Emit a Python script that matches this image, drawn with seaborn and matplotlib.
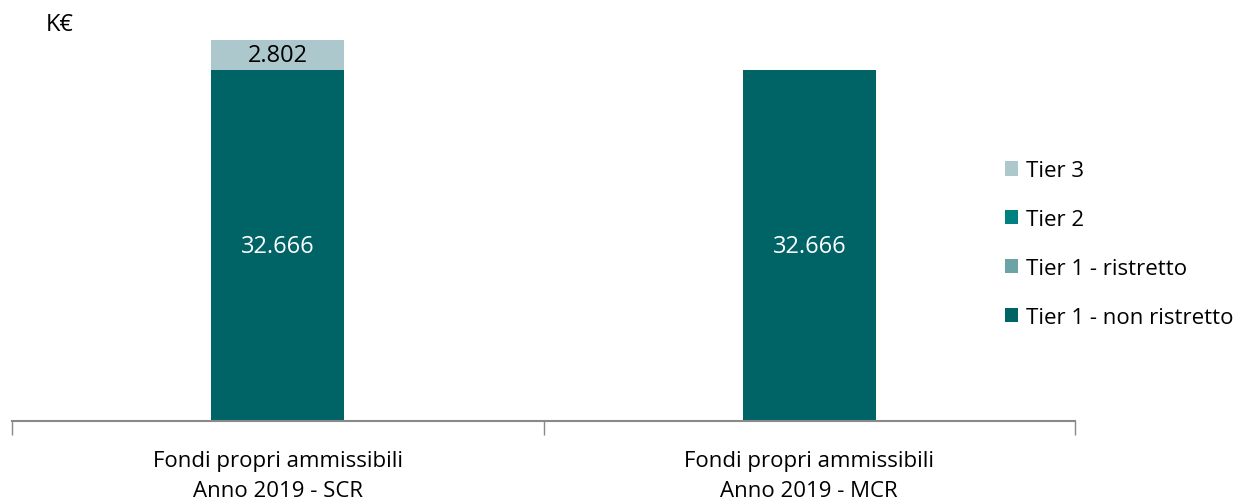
import matplotlib.pyplot as plt
import numpy as np
import seaborn as sns
import pandas as pd

# data
categories = ['Fondi propri ammissibili\nAnno 2019 - SCR', 'Fondi propri ammissibili\nAnno 2019 - MCR']
tiers = ['Tier 1 - non ristretto', 'Tier 1 - ristretto', 'Tier 2', 'Tier 3']
tier1_non_ristretto = [32666, 32666]
tier1_ristretto = [0, 0]
tier2 = [0, 0]
tier3 = [2802, 0]

colors = ['#006366', '#6BA3A6', '#008080', '#ADC8CC']
label_colors = ['white', 'white', 'white', 'black']

sns.set_theme(style='white')
plt.rcParams['font.family'] = ['Open Sans', 'DejaVu Sans']
plt.rcParams['text.color'] = 'black'
plt.rcParams['xtick.color'] = 'black'

fig = plt.figure(figsize=(12.56, 5.02), dpi=100)
ax = fig.add_axes([12 / 1256, 80 / 502, (1075 - 12) / 1256, 412 / 502])

series = [tier1_non_ristretto, tier1_ristretto, tier2, tier3]
bottom = np.zeros(len(categories))
for name, vals, col, lcol in zip(tiers, series, colors, label_colors):
    df = pd.DataFrame({'cat': categories, 'val': vals})
    sns.barplot(data=df, x='cat', y='val', color=col, width=0.25, bottom=bottom,
                label=name, ax=ax, linewidth=0, saturation=1)
    cont = ax.containers[-1]
    labels = [f'{v:,}'.replace(',', '.') if v > 0 else '' for v in vals]
    ax.bar_label(cont, labels=labels, label_type='center', color=lcol, fontsize=17)
    bottom = bottom + np.array(vals)

if ax.get_legend() is not None:
    ax.get_legend().remove()

ax.set_xlim(-0.5, 1.5)
ax.set_ylim(0, 38345)
ax.set_xlabel('')
ax.set_ylabel('')
ax.set_yticks([])

# spines
for s in ['top', 'right', 'left']:
    ax.spines[s].set_visible(False)
ax.spines['bottom'].set_color('#898989')
ax.spines['bottom'].set_linewidth(1.5)

# category ticks at boundaries
ax.set_xticks([-0.5, 0.5, 1.5], minor=True)
ax.tick_params(axis='x', which='minor', length=10, width=1, color='#898989', direction='out', bottom=True)
ax.tick_params(axis='x', which='major', length=0, labelsize=16, labelcolor='black', pad=21)
for t in ax.get_xticklabels():
    t.set_linespacing(1.55)

# legend (reversed order: Tier 3 on top)
handles, labels = ax.get_legend_handles_labels()
leg = fig.legend(handles[::-1], labels[::-1], loc='center left', bbox_to_anchor=(1005 / 1256, 1 - 245 / 502),
                 frameon=False, fontsize=16, handlelength=0.6, handleheight=0.6,
                 labelspacing=1.25, handletextpad=0.35, borderaxespad=0, borderpad=0)

fig.text(60 / 1256, 1 - 25 / 502, 'K€', fontsize=17, ha='center', va='center')

plt.savefig('out.png', dpi=100)
